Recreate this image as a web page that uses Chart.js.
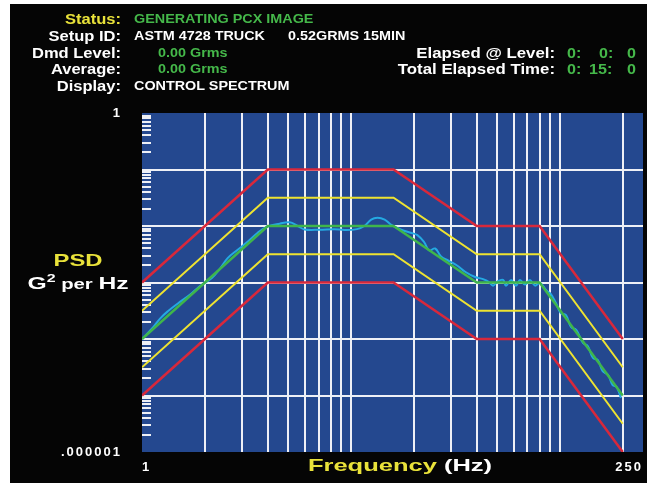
<!DOCTYPE html>
<html>
<head>
<meta charset="utf-8">
<script src="https://cdn.jsdelivr.net/npm/chart.js@4.4.0/dist/chart.umd.min.js"></script>
<style>
  html, body { margin: 0; padding: 0; background: #fff; width: 647px; height: 483px; overflow: hidden; }
  #panel { position: absolute; left: 10px; top: 4px; width: 637px; height: 479px; background: #050505; }
  #wrap { position: absolute; left: 0; top: 0; width: 647px; height: 483px; }
  .t { position: absolute; font-family: 'Liberation Sans', Arial, sans-serif; font-weight: bold; white-space: nowrap; line-height: 16px; z-index: 2; }
  .lbl { left: 0; width: 121px; text-align: right; font-size: 14px; color: #fff; transform-origin: right center; transform: scaleX(1.18); }
  .rlbl { left: 0; width: 555px; text-align: right; font-size: 14px; color: #fff; transform-origin: right center; transform: scaleX(1.2); }
  .val { font-size: 12.5px; color: #fff; transform-origin: left center; transform: scaleX(1.15); }
  .tm { font-size: 14px; color: #45b84a; transform-origin: left center; transform: scaleX(1.15); }
  .green { color: #45b84a; }
  .yellow { color: #e9e23a; }
</style>
</head>
<body>
<div id="panel"></div>

<div class="t lbl yellow" style="top:11px">Status:</div>
<div class="t val green" style="top:11px; left:134px">GENERATING PCX IMAGE</div>
<div class="t lbl" style="top:28px">Setup ID:</div>
<div class="t val" style="top:28px; left:134px">ASTM 4728 TRUCK</div>
<div class="t val" style="top:28px; left:288px">0.52GRMS 15MIN</div>
<div class="t lbl" style="top:44.5px">Dmd Level:</div>
<div class="t val green" style="top:44.5px; left:158px">0.00 Grms</div>
<div class="t lbl" style="top:61px">Average:</div>
<div class="t val green" style="top:61px; left:158px">0.00 Grms</div>
<div class="t lbl" style="top:77.5px">Display:</div>
<div class="t val" style="top:77.5px; left:134px">CONTROL SPECTRUM</div>

<div class="t rlbl" style="top:44.5px">Elapsed @ Level:</div>
<div class="t tm" style="top:44.5px; left:567px">0:</div>
<div class="t tm" style="top:44.5px; left:599px">0:</div>
<div class="t tm" style="top:44.5px; left:627px">0</div>
<div class="t rlbl" style="top:61px">Total Elapsed Time:</div>
<div class="t tm" style="top:61px; left:567px">0:</div>
<div class="t tm" style="top:61px; left:589px">15:</div>
<div class="t tm" style="top:61px; left:627px">0</div>

<div class="t yellow" style="left:28px; width:100px; top:251px; line-height:20px; font-size:17px; text-align:center; transform:scaleX(1.4);">PSD</div>
<div class="t" style="left:18px; width:120px; top:274px; line-height:20px; font-size:17px; color:#fff; text-align:center; transform:scaleX(1.45);">G<sup style="font-size:11px; vertical-align:7px; line-height:0;">2</sup><span style="font-size:14px;"> per </span>Hz</div>

<div class="t" style="left:250px; width:300px; top:456px; line-height:20px; font-size:17px; color:#fff; text-align:center; transform:scaleX(1.5);"><span class="yellow">Frequency</span> (Hz)</div>

<div id="wrap"><canvas id="chart" width="647" height="483"></canvas></div>

<script>
// reference profile (ASTM truck) and tolerance bands
const freqRef = [1, 4, 16, 40, 80, 200];
const psdRef = [0.0001, 0.01, 0.01, 0.001, 0.001, 0.00001];
const psdAlarmHigh = [0.000316, 0.0316, 0.0316, 0.00316, 0.00316, 0.0000316];
const psdAlarmLow = [0.0000316, 0.00316, 0.00316, 0.000316, 0.000316, 0.00000316];
const psdAbortHigh = [0.001, 0.1, 0.1, 0.01, 0.01, 0.0001];
const psdAbortLow = [0.00001, 0.001, 0.001, 0.0001, 0.0001, 0.000001];

// measured control spectrum
const freqCtrl = [1, 1.12, 1.22, 1.33, 1.49, 1.7, 1.89, 2.16, 2.36, 2.57,
  2.87, 3.21, 3.58, 4.0, 4.56, 5.09, 5.56, 6.0, 7.07, 8.34,
  9.31, 10.7, 11.6, 12.5, 13.4, 14.5, 15.6, 17.4, 19.5, 20.8,
  22.4, 23.7, 25.3, 27.0, 29.5, 32.2, 35.2, 39.3, 42.9, 45.8,
  47.9, 50.6, 53.5, 55.2, 58.4, 61.7, 64.4, 68.1, 71.9, 76.0,
  80.3, 86.7, 90.6, 95.7, 101, 107, 113, 120, 129, 136,
  144, 152, 160, 170, 179, 187, 196];
const psdCtrl = [1.0e-4, 1.55e-4, 2.3e-4, 3.1e-4, 4.3e-4, 6.1e-4, 8.6e-4, 1.2e-3, 1.75e-3, 2.7e-3,
  3.8e-3, 5.3e-3, 7.6e-3, 9.8e-3, 1.1e-2, 1.16e-2, 1.0e-2, 8.7e-3, 8.6e-3, 8.8e-3,
  8.5e-3, 8.8e-3, 1.0e-2, 1.3e-2, 1.4e-2, 1.3e-2, 1.05e-2, 8.6e-3, 7.5e-3, 6.9e-3,
  5.2e-3, 3.7e-3, 4.0e-3, 2.9e-3, 2.4e-3, 2.0e-3, 1.55e-3, 1.25e-3, 1.15e-3, 1.02e-3,
  8.8e-4, 1.06e-3, 1.11e-3, 8.8e-4, 1.11e-3, 8.8e-4, 1.11e-3, 9.2e-4, 1.11e-3, 8.8e-4,
  9.8e-4, 7.08e-4, 6.25e-4, 4.34e-4, 2.88e-4, 2.66e-4, 1.63e-4, 1.44e-4, 8.5e-5, 7.52e-5,
  4.61e-5, 4.25e-5, 2.72e-5, 2.31e-5, 1.53e-5, 1.41e-5, 9.03e-6];

const xTickValues = [1, 2, 3, 4, 5, 6, 7, 8, 9, 10, 20, 30, 40, 50, 60, 70, 80, 90, 100, 200, 250];
const yTickValues = [1e-6, 1e-5, 1e-4, 1e-3, 1e-2, 1e-1, 1];

// 2..9 minor tick marks in every decade
const yMinorValues = [];
for (let e = -6; e < 0; e++) {
  for (let m = 2; m <= 9; m++) {
    yMinorValues.push(m * Math.pow(10, e));
  }
}

const COLORS = {
  plot: '#24488f',
  grid: '#eef0f6',
  abort: '#d8283b',
  alarm: '#eee331',
  ref: '#3fb54b',
  ctrl: '#24a9e2',
};

function points(xs, ys) {
  return xs.map((x, i) => ({ x, y: ys[i] }));
}

const plotBackground = {
  id: 'plotBackground',
  beforeDraw(chart) {
    const { ctx, chartArea: a } = chart;
    ctx.save();
    ctx.fillStyle = COLORS.plot;
    ctx.fillRect(a.left, a.top, a.right - a.left, a.bottom - a.top);
    ctx.restore();
    ctx.letterSpacing = '2px';
  },
  beforeDatasetsDraw(chart) {
    const { ctx, chartArea: a } = chart;
    const y = chart.scales.y;
    ctx.letterSpacing = '0px';
    ctx.save();
    ctx.strokeStyle = COLORS.grid;
    ctx.lineWidth = 2;
    ctx.beginPath();
    yMinorValues.forEach((v) => {
      const py = Math.round(y.getPixelForValue(v));
      ctx.moveTo(a.left, py);
      ctx.lineTo(a.left + 9, py);
    });
    ctx.stroke();
    ctx.restore();
  },
};

function line(label, xs, ys, color, width, order, tension) {
  return {
    label,
    data: points(xs, ys),
    borderColor: color,
    borderWidth: width,
    pointRadius: 0,
    fill: false,
    tension: tension || 0,
    order,
  };
}

new Chart(document.getElementById('chart'), {
  type: 'line',
  data: {
    datasets: [
      line('Reference', freqRef, psdRef, COLORS.ref, 2.5, 0),
      line('Control', freqCtrl, psdCtrl, COLORS.ctrl, 2, 1, 0.4),
      line('Alarm high', freqRef, psdAlarmHigh, COLORS.alarm, 2, 2),
      line('Alarm low', freqRef, psdAlarmLow, COLORS.alarm, 2, 2),
      line('Abort high', freqRef, psdAbortHigh, COLORS.abort, 2.5, 3),
      line('Abort low', freqRef, psdAbortLow, COLORS.abort, 2.5, 3),
    ],
  },
  options: {
    responsive: false,
    animation: false,
    layout: { padding: { top: 113, right: 4, left: 0, bottom: 0 } },
    plugins: { legend: { display: false }, tooltip: { enabled: false } },
    scales: {
      x: {
        type: 'logarithmic',
        min: 1,
        max: 250,
        afterBuildTicks(scale) { scale.ticks = xTickValues.map((v) => ({ value: v })); },
        afterFit(scale) { scale.height = 31; },
        border: { display: false },
        grid: {
          drawTicks: true,
          tickLength: 8,
          tickColor: 'rgba(0,0,0,0)',
          lineWidth: 2,
          color: (ctx) => (ctx.tick && (ctx.tick.value === 1 || ctx.tick.value === 250) ? 'rgba(0,0,0,0)' : COLORS.grid),
        },
        ticks: {
          autoSkip: false,
          maxRotation: 0,
          align: 'inner',
          padding: 0,
          color: '#fff',
          font: { family: "'Liberation Sans', Arial, sans-serif", size: 13, weight: 'bold' },
          callback: (v) => (v === 1 ? '1' : v === 250 ? '250' : ''),
        },
      },
      y: {
        type: 'logarithmic',
        min: 1e-6,
        max: 1,
        afterBuildTicks(scale) { scale.ticks = yTickValues.map((v) => ({ value: v })); },
        afterFit(scale) { scale.width = 142; },
        border: { display: false },
        grid: {
          drawTicks: false,
          lineWidth: 2,
          color: (ctx) => (ctx.tick && (ctx.tick.value === 1 || ctx.tick.value === 1e-6) ? 'rgba(0,0,0,0)' : COLORS.grid),
        },
        ticks: {
          autoSkip: false,
          padding: 20,
          color: '#fff',
          font: { family: "'Liberation Sans', Arial, sans-serif", size: 13, weight: 'bold' },
          callback: (v) => (v === 1 ? '1' : v === 1e-6 ? '.000001' : ''),
        },
      },
    },
  },
  plugins: [plotBackground],
});
</script>
</body>
</html>
